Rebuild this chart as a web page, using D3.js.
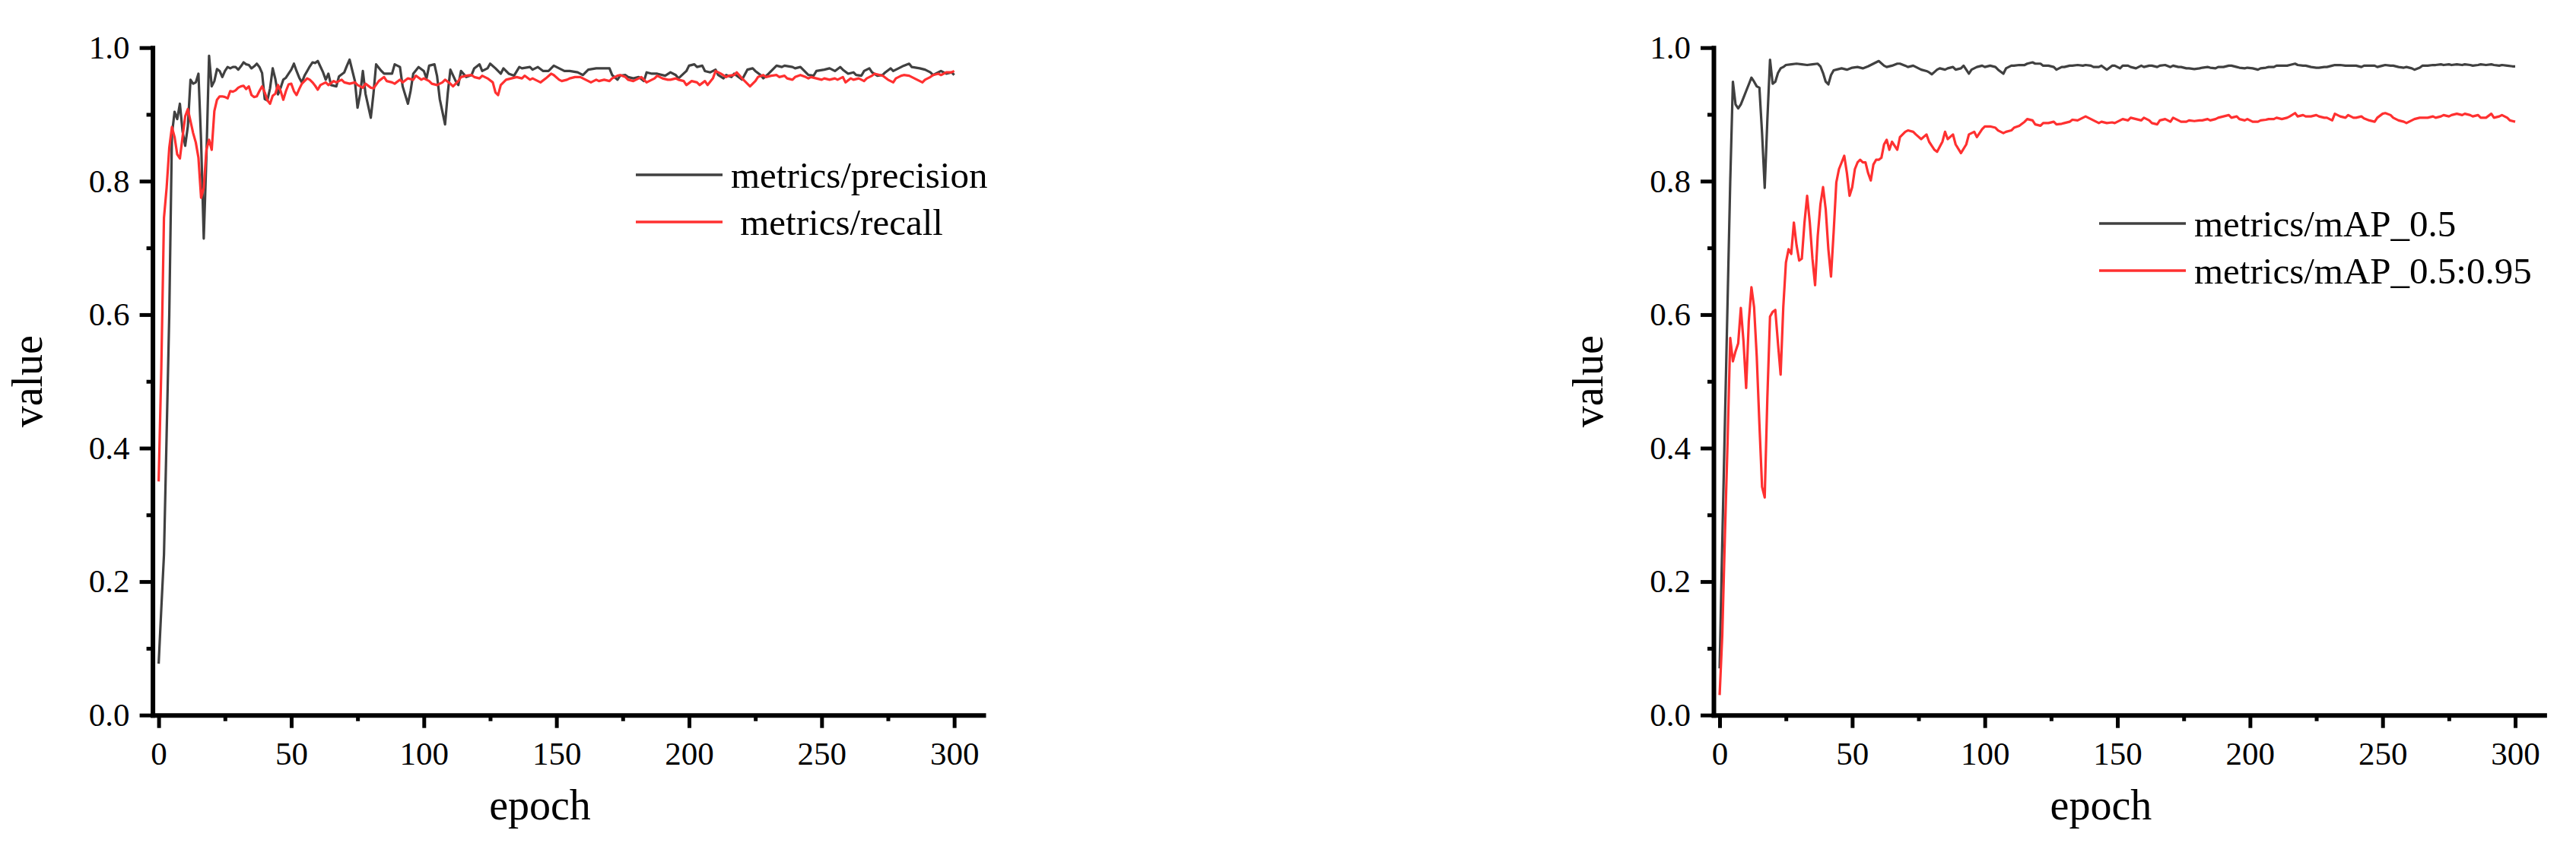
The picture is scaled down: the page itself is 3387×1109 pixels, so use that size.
<!DOCTYPE html>
<html>
<head>
<meta charset="utf-8">
<script src="https://cdn.jsdelivr.net/npm/d3@7"></script>
<style>
body { margin: 0; background: #fff; }
svg { display: block; font-family: "Liberation Serif", "Times New Roman", serif; }
</style>
</head>
<body>
<svg id="chart" width="3387" height="1109"></svg>
<script>
// values, [epoch, value]
var precision = [[0,0.077],[1,0.16],[2,0.24],[3,0.42],[4,0.60],[5,0.87],[6,0.904],[7,0.893],[8,0.916],[9,0.875],[10,0.853],[11,0.882],[12,0.952],[13,0.946],[14,0.948],[15,0.961],[16,0.86],[17,0.714],[18,0.836],[19,0.988],[20,0.942],[21,0.950],[22,0.968],[23,0.965],[24,0.956],[25,0.965],[26,0.971],[27,0.969],[28,0.971],[29,0.971],[30,0.967],[31,0.972],[32,0.978],[33,0.975],[34,0.974],[35,0.969],[36,0.972],[37,0.976],[38,0.971],[39,0.962],[40,0.923],[41,0.921],[42,0.939],[43,0.969],[44,0.953],[45,0.930],[46,0.940],[47,0.952],[48,0.955],[49,0.961],[50,0.967],[51,0.976],[52,0.965],[53,0.955],[54,0.948],[55,0.958],[56,0.965],[57,0.972],[58,0.978],[59,0.977],[60,0.980],
  [62,0.963],[63,0.952],[64,0.961],[65,0.944],[67,0.942],[68,0.957],[70,0.963],[71,0.973],[72,0.982],[74,0.950],[75,0.910],[76,0.931],[77,0.965],[78,0.931],[80,0.895],[81,0.931],[82,0.975],[84,0.965],[85,0.961],[88,0.961],[89,0.975],[91,0.971],[92,0.942],[94,0.916],[95,0.935],[96,0.961],[98,0.971],[100,0.965],[101,0.954],[102,0.973],[104,0.975],[105,0.957],[106,0.923],[108,0.885],[109,0.931],[110,0.967],[112,0.950],[113,0.944],[114,0.965],[116,0.956],[118,0.959],[119,0.969],[121,0.975],[122,0.965],[124,0.969],[125,0.976],[127,0.969],[129,0.961],[130,0.969],[132,0.961],[134,0.958],[136,0.971],[137,0.969],[140,0.971],[141,0.967],[143,0.971],[145,0.965],[147,0.965],[149,0.973],[151,0.969],[153,0.965],[155,0.965],[158,0.963],[160,0.959],[162,0.967],[165,0.969],[167,0.969],[170,0.969],[171,0.959],[173,0.952],[174,0.958],[176,0.959],[177,0.956],[179,0.954],[181,0.956],[183,0.950],[184,0.963],[186,0.961],[188,0.961],[191,0.958],[193,0.963],[195,0.959],[196,0.954],[199,0.965],[200,0.973],[202,0.975],[203,0.971],[205,0.973],[206,0.965],[208,0.963],[210,0.967],[211,0.959],[213,0.954],[214,0.959],[216,0.956],[217,0.961],[220,0.952],[222,0.967],[224,0.969],[225,0.965],[227,0.959],[228,0.954],[230,0.961],[232,0.969],[233,0.973],[235,0.971],[236,0.973],[239,0.971],[240,0.969],[242,0.971],[243,0.967],[245,0.959],[247,0.958],[248,0.965],[251,0.967],[253,0.969],[255,0.965],[257,0.971],[258,0.967],[260,0.961],[262,0.963],[263,0.959],[265,0.958],[266,0.965],[268,0.969],[269,0.963],[271,0.958],[273,0.959],[274,0.963],[276,0.969],[277,0.965],[280,0.971],[281,0.973],[283,0.976],[284,0.971],[287,0.969],[289,0.967],[291,0.963],[292,0.959],[294,0.963],[295,0.965],[297,0.961],[299,0.963],[300,0.959]];

var recall = [[0,0.35],[1,0.52],[2,0.745],[3,0.79],[4,0.85],[5,0.881],[6,0.866],[7,0.840],[8,0.834],[9,0.866],[10,0.897],[11,0.908],[12,0.89],[13,0.872],[14,0.858],[15,0.835],[16,0.775],[17,0.79],[18,0.847],[19,0.862],[20,0.847],[21,0.905],[22,0.922],[23,0.927],[24,0.927],[25,0.926],[26,0.924],[27,0.935],[28,0.934],[29,0.936],[30,0.940],[31,0.942],[32,0.943],[33,0.938],[34,0.942],[35,0.929],[36,0.926],[37,0.927],[38,0.935],[39,0.942],[40,0.933],[41,0.921],[42,0.916],[43,0.928],[44,0.931],[45,0.944],[46,0.935],[47,0.922],[48,0.935],[49,0.945],[50,0.946],[51,0.935],[52,0.929],[53,0.938],[54,0.946],[55,0.950],[56,0.954],[57,0.952],[58,0.948],[59,0.943],[60,0.937],
  [61,0.944],[63,0.948],[64,0.944],[66,0.950],[67,0.948],[69,0.952],[70,0.948],[72,0.946],[74,0.948],[75,0.944],[77,0.940],[78,0.946],[80,0.940],[81,0.939],[83,0.950],[85,0.956],[86,0.950],[88,0.948],[89,0.946],[91,0.952],[92,0.948],[94,0.954],[96,0.952],[97,0.958],[99,0.952],[100,0.954],[102,0.950],[103,0.946],[105,0.944],[107,0.948],[108,0.952],[110,0.946],[111,0.942],[113,0.950],[114,0.956],[116,0.958],[118,0.959],[119,0.956],[121,0.954],[122,0.958],[124,0.954],[126,0.948],[127,0.933],[128,0.929],[129,0.944],[131,0.952],[133,0.954],[135,0.956],[137,0.954],[138,0.958],[140,0.952],[141,0.954],[143,0.950],[144,0.948],[146,0.954],[148,0.961],[149,0.959],[151,0.952],[152,0.950],[154,0.952],[155,0.954],[157,0.956],[159,0.956],[160,0.954],[162,0.950],[163,0.948],[165,0.952],[166,0.950],[168,0.952],[170,0.950],[171,0.954],[173,0.958],[174,0.959],[176,0.956],[177,0.952],[179,0.950],[181,0.954],[182,0.956],[184,0.948],[185,0.950],[187,0.954],[188,0.958],[190,0.954],[192,0.952],[193,0.952],[195,0.954],[196,0.952],[198,0.950],[199,0.944],[201,0.950],[203,0.948],[204,0.944],[206,0.950],[207,0.944],[209,0.954],[210,0.965],[212,0.961],[214,0.956],[215,0.958],[217,0.959],[218,0.963],[220,0.954],[222,0.946],[223,0.942],[225,0.950],[226,0.956],[228,0.959],[229,0.956],[231,0.958],[233,0.959],[234,0.956],[236,0.958],[237,0.954],[239,0.952],[240,0.956],[242,0.959],[244,0.956],[245,0.954],[246,0.956],[248,0.954],[250,0.952],[251,0.954],[253,0.952],[255,0.954],[256,0.952],[258,0.956],[259,0.948],[261,0.954],[262,0.952],[264,0.954],[266,0.950],[267,0.954],[269,0.958],[270,0.961],[272,0.959],[273,0.958],[275,0.952],[277,0.948],[278,0.954],[280,0.958],[281,0.959],[283,0.958],[284,0.956],[286,0.952],[288,0.948],[289,0.952],[291,0.956],[292,0.959],[294,0.961],[295,0.959],[297,0.963],[299,0.963],[300,0.965]];

var map50 = [[0,0.07],[1,0.26],[2,0.44],[3,0.62],[4,0.80],[5,0.949],[6,0.915],[7,0.909],[8,0.915],[9,0.925],[10,0.935],[11,0.945],[12,0.955],[13,0.949],[14,0.942],[15,0.940],[16,0.872],[17,0.79],[18,0.892],[19,0.982],[20,0.946],[21,0.949],[22,0.962],[23,0.969],[24,0.971],[25,0.974],[27,0.975],[29,0.976],[31,0.975],[33,0.974],[35,0.975],[37,0.976],[38,0.972],[39,0.962],[40,0.949],[41,0.945],[42,0.959],[43,0.966],[44,0.967],[46,0.969],[48,0.967],[50,0.970],[52,0.971],[54,0.969],[56,0.972],[58,0.976],[60,0.980],
  [62,0.973],[63,0.971],[65,0.973],[67,0.976],[68,0.976],[70,0.973],[71,0.971],[73,0.973],[74,0.971],[76,0.967],[78,0.965],[79,0.963],[80,0.960],[82,0.967],[83,0.969],[85,0.967],[86,0.969],[88,0.971],[89,0.967],[91,0.969],[92,0.973],[94,0.961],[95,0.967],[97,0.971],[99,0.973],[100,0.971],[102,0.973],[104,0.971],[105,0.967],[107,0.961],[108,0.969],[110,0.973],[111,0.973],[113,0.974],[115,0.974],[116,0.976],[118,0.978],[119,0.976],[121,0.976],[122,0.973],[124,0.973],[126,0.971],[127,0.967],[129,0.971],[130,0.971],[132,0.973],[133,0.973],[135,0.974],[137,0.973],[138,0.974],[140,0.973],[141,0.971],[143,0.971],[144,0.973],[146,0.967],[148,0.973],[149,0.973],[151,0.969],[152,0.973],[154,0.973],[155,0.971],[157,0.969],[159,0.973],[160,0.971],[162,0.973],[163,0.973],[165,0.971],[166,0.973],[168,0.974],[170,0.971],[171,0.973],[173,0.971],[174,0.971],[176,0.969],[177,0.969],[179,0.968],[181,0.969],[182,0.970],[184,0.971],[185,0.970],[187,0.969],[188,0.971],[190,0.971],[192,0.973],[193,0.973],[195,0.971],[196,0.970],[198,0.969],[199,0.970],[201,0.969],[203,0.967],[204,0.969],[206,0.970],[207,0.971],[209,0.971],[210,0.973],[212,0.973],[214,0.973],[215,0.974],[217,0.976],[218,0.974],[220,0.973],[221,0.973],[223,0.971],[225,0.970],[226,0.970],[228,0.971],[229,0.971],[231,0.973],[232,0.974],[234,0.974],[236,0.973],[237,0.973],[239,0.973],[240,0.973],[242,0.971],[243,0.973],[245,0.973],[247,0.973],[248,0.971],[250,0.973],[251,0.974],[253,0.973],[254,0.973],[256,0.971],[258,0.970],[259,0.971],[261,0.969],[262,0.967],[264,0.970],[265,0.973],[267,0.973],[269,0.974],[270,0.974],[272,0.975],[273,0.974],[275,0.975],[276,0.974],[278,0.975],[280,0.974],[281,0.975],[283,0.974],[284,0.973],[286,0.974],[287,0.975],[289,0.974],[291,0.975],[292,0.974],[294,0.973],[295,0.974],[297,0.973],[299,0.972],[300,0.972]];

var map5095 = [[0,0.03],[1,0.12],[2,0.27],[3,0.41],[4,0.565],[5,0.53],[6,0.545],[7,0.557],[8,0.61],[9,0.56],[10,0.49],[11,0.590],[12,0.641],[13,0.611],[14,0.537],[15,0.436],[16,0.342],[17,0.326],[18,0.476],[19,0.597],[20,0.604],[21,0.607],[22,0.557],[23,0.510],[24,0.611],[25,0.678],[26,0.698],[27,0.691],[28,0.738],[29,0.704],[30,0.681],[31,0.684],[32,0.738],[33,0.778],[34,0.738],[35,0.684],[36,0.644],[37,0.718],[38,0.765],[39,0.791],[40,0.758],[41,0.698],[42,0.657],[43,0.724],[44,0.798],[45,0.818],[46,0.828],[47,0.838],[48,0.812],[49,0.778],[50,0.791],[51,0.818],[52,0.828],[53,0.832],[54,0.828],[55,0.828],[56,0.812],[57,0.801],[58,0.825],[59,0.832],[60,0.832],[61,0.835],[62,0.855],[63,0.862],
  [64,0.847],[65,0.859],[67,0.847],[68,0.866],[70,0.874],[71,0.876],[73,0.874],[74,0.870],[76,0.863],[78,0.870],[79,0.859],[81,0.847],[82,0.844],[84,0.859],[85,0.874],[86,0.863],[88,0.870],[89,0.855],[91,0.842],[93,0.855],[94,0.870],[96,0.874],[97,0.866],[99,0.878],[100,0.882],[102,0.882],[104,0.880],[105,0.876],[107,0.872],[108,0.874],[110,0.876],[111,0.880],[113,0.883],[115,0.889],[116,0.893],[118,0.891],[119,0.885],[121,0.883],[122,0.887],[124,0.887],[126,0.889],[127,0.885],[129,0.886],[130,0.887],[132,0.889],[133,0.892],[135,0.891],[137,0.895],[138,0.897],[140,0.893],[141,0.891],[143,0.887],[144,0.889],[146,0.887],[148,0.888],[149,0.887],[151,0.891],[152,0.893],[154,0.891],[155,0.895],[157,0.893],[159,0.891],[160,0.895],[162,0.891],[163,0.887],[165,0.885],[166,0.891],[168,0.893],[170,0.889],[171,0.895],[173,0.891],[174,0.889],[176,0.889],[177,0.891],[179,0.890],[181,0.891],[182,0.891],[184,0.893],[185,0.891],[187,0.893],[188,0.895],[190,0.897],[192,0.899],[193,0.895],[195,0.897],[196,0.893],[198,0.891],[199,0.893],[201,0.889],[203,0.889],[204,0.891],[206,0.892],[207,0.893],[209,0.893],[210,0.895],[212,0.893],[214,0.895],[215,0.897],[217,0.902],[218,0.897],[220,0.899],[221,0.897],[223,0.897],[225,0.899],[226,0.897],[228,0.895],[229,0.895],[231,0.891],[232,0.901],[234,0.897],[236,0.895],[237,0.899],[239,0.895],[240,0.895],[242,0.897],[243,0.894],[245,0.891],[247,0.889],[248,0.895],[250,0.901],[251,0.902],[253,0.899],[254,0.895],[256,0.891],[258,0.889],[259,0.887],[261,0.891],[262,0.893],[264,0.895],[265,0.895],[267,0.895],[269,0.897],[270,0.895],[272,0.897],[273,0.899],[275,0.897],[276,0.899],[278,0.901],[280,0.899],[281,0.901],[283,0.899],[284,0.897],[286,0.899],[287,0.895],[289,0.895],[291,0.901],[292,0.895],[294,0.897],[295,0.899],[297,0.895],[298,0.891],[300,0.889]];

var xTicks = [0, 50, 100, 150, 200, 250, 300];
var xMinor = [25, 75, 125, 175, 225, 275];
var yTicks = [0, 0.2, 0.4, 0.6, 0.8, 1.0];
var yMinor = [0.1, 0.3, 0.5, 0.7, 0.9];
var leftNames = ["metrics/precision", " metrics/recall"];
var rightNames = ["metrics/mAP_0.5", "metrics/mAP_0.5:0.95"];

var black = "#404040", red = "#ff3030";
var svg = d3.select("#chart");

// same frame for both panels, right one is just shifted over
var x = d3.scaleLinear().domain([-2.3, 311]).range([200.6, 1293]);
var y = d3.scaleLinear().domain([0, 1]).range([940.7, 62.7]);

var line = d3.line()
    .x(function(d) { return x(d[0]); })
    .y(function(d) { return y(d[1]); });

var styleAxis = function(a, fontSize) {
    a.select(".domain").attr("stroke", "#000").attr("stroke-width", 6).attr("stroke-linecap", "square");
    a.selectAll(".tick line").attr("stroke", "#000").attr("stroke-width", 5);
    a.selectAll("text").attr("fill", "#000").attr("font-size", fontSize)
	.attr("font-family", "'Liberation Serif', 'Times New Roman', serif");
};

var drawPanel = function(shift, series, names, legendX, legendY) {
    var g = svg.append("g").attr("transform", "translate(" + shift + ",0)");

    // minor ticks (no labels)
    var mx = g.append("g").attr("transform", "translate(0," + y(0) + ")")
	.call(d3.axisBottom(x).tickValues(xMinor).tickSize(8).tickFormat(""));
    mx.select(".domain").remove();
    mx.selectAll(".tick line").attr("stroke", "#000").attr("stroke-width", 5);
    var my = g.append("g").attr("transform", "translate(" + x.range()[0] + ",0)")
	.call(d3.axisLeft(y).tickValues(yMinor).tickSize(8).tickFormat(""));
    my.select(".domain").remove();
    my.selectAll(".tick line").attr("stroke", "#000").attr("stroke-width", 5);

    var ax = g.append("g").attr("transform", "translate(0," + y(0) + ")")
	.call(d3.axisBottom(x).tickValues(xTicks).tickSize(17).tickSizeOuter(0).tickPadding(18).tickFormat(d3.format("d")));
    styleAxis(ax, 43);
    var ay = g.append("g").attr("transform", "translate(" + x.range()[0] + ",0)")
	.call(d3.axisLeft(y).tickValues(yTicks).tickSize(17).tickSizeOuter(0).tickPadding(13).tickFormat(d3.format(".1f")));
    styleAxis(ay, 43);

    // data lines, black first then red on top
    var colors = [black, red];
    series.forEach(function(s, i) {
	g.append("path").datum(s)
	    .attr("d", line)
	    .attr("fill", "none")
	    .attr("stroke", colors[i])
	    .attr("stroke-width", 3.2)
	    .attr("stroke-linejoin", "round");
    });

    // legend
    names.forEach(function(n, i) {
	var ly = legendY + i * 62;
	g.append("line")
	    .attr("x1", legendX).attr("x2", legendX + 114)
	    .attr("y1", ly).attr("y2", ly)
	    .attr("stroke", colors[i]).attr("stroke-width", 3.6);
	g.append("text")
	    .attr("x", legendX + 125).attr("y", ly + 17)
	    .attr("font-size", 49)
	    .style("white-space", "pre")
	    .text(n);
    });

    g.append("text")
	.attr("x", 710).attr("y", 1078)
	.attr("text-anchor", "middle")
	.attr("font-size", 56)
	.text("epoch");
    g.append("text")
	.attr("transform", "translate(55," + y(0.5) + ") rotate(-90)")
	.attr("text-anchor", "middle")
	.attr("font-size", 56)
	.text("value");
};

drawPanel(0, [precision, recall], leftNames, 836, 230);
drawPanel(2052.4, [map50, map5095], rightNames, 707.6, 294);
</script>
</body>
</html>
